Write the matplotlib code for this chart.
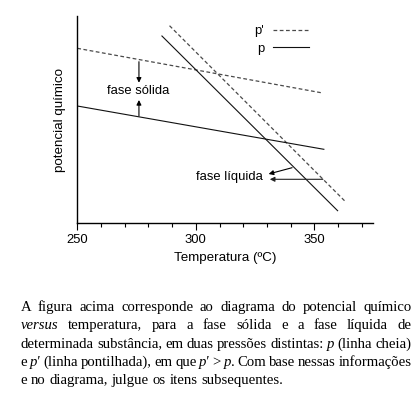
import matplotlib.pyplot as plt
from matplotlib.lines import Line2D
from matplotlib.ticker import MultipleLocator

# dados (temperatura em ºC, potencial químico em unidades arbitrárias)
temp_liq_p = [285.7, 359.8]
mu_liq_p = [187.0, 12.3]
temp_liq_p2 = [288.9, 362.7]
mu_liq_p2 = [197.3, 22.3]
temp_sol_p2 = [250.0, 352.8]
mu_sol_p2 = [174.7, 130.3]
temp_sol_p = [250.0, 354.0]
mu_sol_p = [117.0, 73.7]

xticks = [250, 300, 350]

W, H = 415, 394
fig = plt.figure(figsize=(W / 100, H / 100), dpi=100)
ax = fig.add_axes([77.3 / W, 1 - 223 / H, 295.4 / W, 207 / H])

sans = "Liberation Sans"
serif = "Liberation Serif"
fs = 9.4

dash_col = "#4a4a4a"
ax.plot(temp_sol_p2, mu_sol_p2, color=dash_col, lw=0.9, dashes=(3, 2))
ax.plot(temp_liq_p2, mu_liq_p2, color=dash_col, lw=0.9, dashes=(3, 2))
ax.plot(temp_sol_p, mu_sol_p, color="#111111", lw=0.8)
ax.plot(temp_liq_p, mu_liq_p, color="#111111", lw=0.8)

ax.set_xlim(250, 374.6)
ax.set_ylim(0, 207)

# setas e rótulos das fases
arr = dict(arrowstyle="-|>", color="black", lw=0.8, mutation_scale=7, shrinkA=0, shrinkB=0)
ax.annotate("", xy=(276, 140.3), xytext=(276, 161.3), arrowprops=arr)
ax.annotate("", xy=(276, 123), xytext=(276, 107), arrowprops=arr)
ax.text(275.5, 132.3, "fase sólida", ha="center", va="center", fontsize=fs, family=sans)
ax.annotate("", xy=(330.7, 49), xytext=(340.6, 55.3), arrowprops=arr)
arr2 = dict(arr, color="#222222")
ax.annotate("", xy=(331.2, 43.7), xytext=(353.6, 43.7), arrowprops=arr2)
ax.text(314.3, 46.3, "fase líquida", ha="center", va="center", fontsize=fs, family=sans)

handles = [Line2D([], [], color=dash_col, lw=0.9, dashes=(3, 2)),
           Line2D([], [], color="#111111", lw=0.8)]
ax.legend(handles, ["p'", "p"], loc="upper right", bbox_to_anchor=(0.785, 0.955),
          frameon=False, markerfirst=False, prop={"family": sans, "size": fs},
          handlelength=2.8, handletextpad=0.65, labelspacing=0.4, borderpad=0,
          borderaxespad=0)

for s in ["top", "right"]:
    ax.spines[s].set_visible(False)
ax.spines["left"].set_linewidth(1.0)
ax.spines["bottom"].set_linewidth(1.0)
ax.set_yticks([])
ax.set_xticks(xticks)
ax.xaxis.set_minor_locator(MultipleLocator(10))
ax.tick_params(axis="x", which="major", length=5, width=0.8, pad=3, labelsize=fs)
ax.tick_params(axis="x", which="minor", length=3, width=0.8)
for lab in ax.get_xticklabels():
    lab.set_family(sans)
ax.set_xlabel("Temperatura (ºC)", fontsize=fs + 0.2, family=sans, labelpad=4)
ax.set_ylabel("potencial químico", fontsize=fs + 0.2, family=sans, labelpad=8)

# parágrafo justificado abaixo do gráfico
N, I = "normal", "italic"
lines = [
    [[("A", N)], [("figura", N)], [("acima", N)], [("corresponde", N)], [("ao", N)],
     [("diagrama", N)], [("do", N)], [("potencial", N)], [("químico", N)]],
    [[("versus", I)], [("temperatura,", N)], [("para", N)], [("a", N)], [("fase", N)],
     [("sólida", N)], [("e", N)], [("a", N)], [("fase", N)], [("líquida", N)], [("de", N)]],
    [[("determinada", N)], [("substância,", N)], [("em", N)], [("duas", N)], [("pressões", N)],
     [("distintas:", N)], [("p", I)], [("(linha", N)], [("cheia)", N)]],
    [[("e", N)], [("p'", I)], [("(linha", N)], [("pontilhada),", N)], [("em", N)], [("que", N)],
     [("p'", I)], [(">", N)], [("p", I), (".", N)], [("Com", N)], [("base", N)], [("nessas", N)],
     [("informações", N)]],
    [[("e", N)], [("no", N)], [("diagrama,", N)], [("julgue", N)], [("os", N)], [("itens", N)],
     [("subsequentes.", N)]],
]
baselines = [311, 329.3, 347.6, 366, 384.3]
x_left, x_right = 20.7, 411.5
pfs = 10.6

fig.canvas.draw()
rend = fig.canvas.get_renderer()

def make(txt, style, x, y):
    return fig.text(x / W, 1 - y / H, txt, fontsize=pfs, family=serif, style=style,
                    ha="left", va="baseline")

sp = make("a a", N, 0, 0).get_window_extent(rend).width - make("aa", N, 0, 0).get_window_extent(rend).width
for t in fig.texts[:]:
    t.remove()

for li, (words, yb) in enumerate(zip(lines, baselines)):
    objs = []
    widths = []
    for w in words:
        segs = []
        ww = 0
        for txt, st in w:
            t = make(txt, st, 0, yb)
            bw = t.get_window_extent(rend).width
            segs.append((t, bw))
            ww += bw
        objs.append(segs)
        widths.append(ww)
    if li < len(lines) - 1:
        gap = (x_right - x_left - sum(widths)) / (len(words) - 1)
    else:
        gap = sp
    x = x_left
    for segs, ww in zip(objs, widths):
        xs = x
        for t, bw in segs:
            t.set_x(xs / W)
            xs += bw
        x += ww + gap

fig.savefig("out.png", dpi=100)
